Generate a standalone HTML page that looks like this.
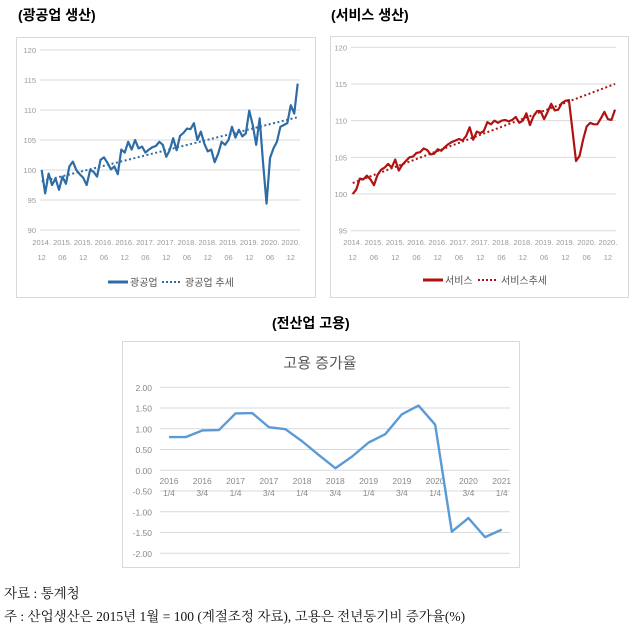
<!DOCTYPE html>
<html><head><meta charset="utf-8"><style>
body{margin:0;background:#fff;width:634px;height:630px;overflow:hidden;position:relative;font-family:"Liberation Serif","Noto Serif CJK KR",serif}
.h{position:absolute;font-weight:bold;font-size:14px;color:#000;font-family:"Liberation Sans","Noto Sans CJK KR",sans-serif}
.f{position:absolute;left:4px;font-size:13.5px;color:#111}
svg{position:absolute;left:0;top:0}
</style></head><body>
<div class="h" style="left:18px;top:5px">(광공업 생산)</div>
<div class="h" style="left:331px;top:5px">(서비스 생산)</div>
<div class="h" style="left:272px;top:313px">(전산업 고용)</div>
<div class="f" style="top:582px">자료 : 통계청</div>
<div class="f" style="top:605px">주 : 산업생산은 2015년 1월 = 100 (계절조정 자료), 고용은 전년동기비 증가율(%)</div>
<svg id="s" width="634" height="630"></svg>
<script>
const mining=[100,96.1,99.4,97.5,98.6,96.7,98.9,97.7,100.6,101.4,100,99.3,98.7,97.5,100,99.7,98.9,101.7,102.1,101.2,100.1,100.6,99.3,103.4,102.9,104.7,103.4,105,103.6,103.9,102.9,103.4,103.8,104,104.7,104.2,102.2,103.3,105.3,103.3,105.7,106.2,106.9,106.8,107.8,105,106.4,104.4,103.1,103.4,101.3,102.7,104.7,104.2,105,107.2,105.4,106.7,105.6,106.1,109.9,107.5,104.2,108.6,101.1,94.4,102,103.6,104.7,107.2,107.5,107.8,110.8,109.4,114.4];
const miningTrend=[98.1,108.8];
const service=[100,100.6,102.1,102,102.5,102,101.2,102.6,103.3,103.6,104.1,103.6,104.7,103.2,104,104.5,105,105.1,105.6,105.7,106.2,106,105.4,105.5,106.1,105.9,106.4,106.8,107.1,107.3,107.5,107.3,107.9,109.1,107.4,108.5,108.3,108.6,109.8,109.5,110,109.7,110,110.1,109.9,110.1,110.5,109.7,110,111,109.4,110.6,111.3,111.3,110.2,111.2,112.3,111.4,111.5,112.4,112.7,112.8,108.7,104.5,105.2,107.4,109.2,109.7,109.5,109.5,110.3,111.2,110.2,110.1,111.5];
const serviceTrend=[101.5,115];
const monthLabels1=["2014.","2015.","2015.","2016.","2016.","2017.","2017.","2018.","2018.","2019.","2019.","2020.","2020."];
const monthLabels2=["12","06","12","06","12","06","12","06","12","06","12","06","12"];
const miningTicks=[90,95,100,105,110,115,120];
const serviceTicks=[95,100,105,110,115,120];
const empl=[0.80,0.80,0.96,0.97,1.37,1.38,1.04,0.99,0.70,0.37,0.05,0.33,0.67,0.87,1.35,1.56,1.10,-1.48,-1.15,-1.61,-1.43];
const qYears=["2016","2016","2017","2017","2018","2018","2019","2019","2020","2020","2021"];
const qQuarters=["1/4","3/4","1/4","3/4","1/4","3/4","1/4","3/4","1/4","3/4","1/4"];
const emplTicks=[2,1.5,1,0.5,0,-0.5,-1,-1.5,-2];

const S=document.getElementById('s');const NS='http://www.w3.org/2000/svg';
function mk(t,a,txt){const e=document.createElementNS(NS,t);for(const k in a)e.setAttribute(k,a[k]);if(txt!==undefined)e.textContent=txt;S.appendChild(e);return e;}
const LF='"Liberation Sans","Noto Sans CJK KR",sans-serif';
const NF='"Liberation Sans Narrow","Liberation Sans",sans-serif';

function lineChart(o){
  let r=mk('rect',{x:o.bx,y:o.by,width:o.bw,height:o.bh,fill:'#fff',stroke:'#d9d9d9'});
  
  const y=v=>o.y0-(v-o.vmin)/(o.vmax-o.vmin)*(o.y0-o.y1);
  const x=i=>o.x0+i*(o.x1-o.x0)/(o.data.length-1);
  o.ticks.forEach(t=>{
    let g=mk('line',{x1:o.gx0,x2:o.gx1,y1:y(t),y2:y(t),stroke:'#d9d9d9','stroke-width':1});
    
    let l=mk('text',{x:o.gx0-4,y:y(t)+3,'text-anchor':'end','font-size':7.5,fill:'#999','font-family':NF},t);
    
  });
  monthLabels1.forEach((t,k)=>{
    const xx=x(k*6);
    let a=mk('text',{x:xx,y:o.ly,'text-anchor':'middle','font-size':7.5,fill:'#999','font-family':NF},t);
    
    let b=mk('text',{x:xx,y:o.ly+15,'text-anchor':'middle','font-size':7.5,fill:'#999','font-family':NF},monthLabels2[k]);
    
  });
  let tr=mk('line',{x1:x(0),y1:y(o.trend[0]),x2:x(o.data.length-1),y2:y(o.trend[1]),stroke:o.tc,'stroke-width':2,'stroke-dasharray':'2 2.5'});
  
  let p=mk('polyline',{points:o.data.map((v,i)=>x(i)+','+y(v)).join(' '),fill:'none',stroke:o.c,'stroke-width':2.2,'stroke-linejoin':'round'});
  
  let l1=mk('line',{x1:o.lg,x2:o.lg+20,y1:o.legy,y2:o.legy,stroke:o.c,'stroke-width':3});
  
  let t1=mk('text',{x:o.lg+22,y:o.legy+4,'font-size':10,fill:'#555','font-family':LF},o.l1);
  
  let l2=mk('line',{x1:o.lg2,x2:o.lg2+20,y1:o.legy,y2:o.legy,stroke:o.tc,'stroke-width':2,'stroke-dasharray':'2 2'});
  
  let t2=mk('text',{x:o.lg2+23,y:o.legy+4,'font-size':10,fill:'#555','font-family':LF},o.l2);
  
}
lineChart({name:'mining',bx:16.5,by:37.5,bw:299,bh:260,data:mining,trend:miningTrend,ticks:miningTicks,vmin:90,vmax:120,y0:230,y1:50,x0:41.7,x1:297.7,gx0:40,gx1:300,ly:245,c:'#2e6ca6',tc:'#2e6ca6',lg:108,lg2:162,legy:282,l1:'광공업',l2:'광공업 추세'});
lineChart({name:'service',bx:330.5,by:36.5,bw:298,bh:261,data:service,trend:serviceTrend,ticks:serviceTicks,vmin:95,vmax:120,y0:230.7,y1:47.3,x0:352.7,x1:615,gx0:351,gx1:616,ly:245,c:'#b01212',tc:'#b01212',lg:423,lg2:478,legy:280,l1:'서비스',l2:'서비스추세'});

(function(){
  let r=mk('rect',{x:122.5,y:341.5,width:397,height:226,fill:'#fff',stroke:'#d9d9d9'});
  
  let t=mk('text',{x:320,y:368,'text-anchor':'middle','font-size':15,fill:'#595959','font-family':LF},'고용 증가율');
  
  const y=v=>470.3-v*41.5;
  const x=i=>169+i*(501.7-169)/(empl.length-1);
  emplTicks.forEach(v=>{
    let g=mk('line',{x1:160,x2:510,y1:y(v),y2:y(v),stroke:'#d9d9d9'});
    
    let l=mk('text',{x:152,y:y(v)+3.5,'text-anchor':'end','font-size':8.5,fill:'#888','font-family':LF},v.toFixed(2));
    
  });
  qYears.forEach((yy,k)=>{
    const xx=x(k*2);
    let a=mk('text',{x:xx,y:484,'text-anchor':'middle','font-size':8.5,fill:'#888','font-family':LF},yy);
    
    let b=mk('text',{x:xx,y:496,'text-anchor':'middle','font-size':8.5,fill:'#888','font-family':LF},qQuarters[k]);
    
  });
  let p=mk('polyline',{points:empl.map((v,i)=>x(i)+','+y(v)).join(' '),fill:'none',stroke:'#5b9bd5','stroke-width':2.4,'stroke-linejoin':'round'});
  
})();
</script>
</body></html>
